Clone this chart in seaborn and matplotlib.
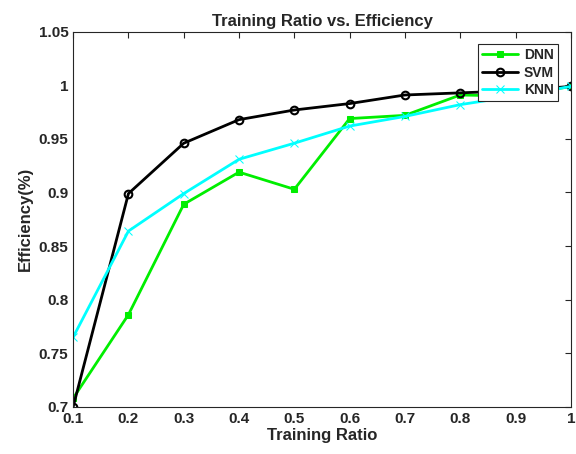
import matplotlib.pyplot as plt
import seaborn as sns
import pandas as pd

ratio = [0.1, 0.2, 0.3, 0.4, 0.5, 0.6, 0.7, 0.8, 0.9, 1.0]
dnn = [0.708, 0.786, 0.889, 0.919, 0.903, 0.969, 0.972, 0.991, 0.990, 0.999]
svm = [0.700, 0.899, 0.946, 0.968, 0.977, 0.983, 0.991, 0.993, 0.995, 0.999]
knn = [0.765, 0.864, 0.899, 0.931, 0.946, 0.962, 0.971, 0.982, 0.990, 0.999]
yticks = [0.7, 0.75, 0.8, 0.85, 0.9, 0.95, 1.0, 1.05]
ytick_labels = ['0.7', '0.75', '0.8', '0.85', '0.9', '0.95', '1', '1.05']
xticks = [0.1, 0.2, 0.3, 0.4, 0.5, 0.6, 0.7, 0.8, 0.9, 1.0]
xtick_labels = ['0.1', '0.2', '0.3', '0.4', '0.5', '0.6', '0.7', '0.8', '0.9', '1']

sns.set_style('white')
plt.rcParams['font.family'] = ['Liberation Sans', 'DejaVu Sans']
plt.rcParams['font.weight'] = 'bold'

df = pd.DataFrame({'ratio': ratio, 'DNN': dnn, 'SVM': svm, 'KNN': knn})

fig = plt.figure(figsize=(5.76, 4.54), dpi=100)
ax = fig.add_axes([0.127, 0.104, 0.864, 0.826])

sns.lineplot(data=df, x='ratio', y='DNN', ax=ax, color='#00ee00', marker='s',
             markersize=4.5, linewidth=2, label='DNN', markeredgecolor='#00ee00')
sns.lineplot(data=df, x='ratio', y='SVM', ax=ax, color='black', marker='o',
             markersize=5.5, linewidth=2, label='SVM', markerfacecolor='none',
             markeredgecolor='black', markeredgewidth=1.5)
sns.lineplot(data=df, x='ratio', y='KNN', ax=ax, color='#00ffff', marker='x',
             markersize=5.5, linewidth=2, label='KNN', markeredgecolor='#00ffff')

ax.set_xlim(0.1, 1.0)
ax.set_ylim(0.7, 1.05)
ax.set_xticks(xticks)
ax.set_xticklabels(xtick_labels)
ax.set_yticks(yticks)
ax.set_yticklabels(ytick_labels)
ax.tick_params(direction='in', top=True, right=True, labelsize=11, colors='#262626',
               length=4, width=0.8)
for s in ax.spines.values():
    s.set_color('#262626')
    s.set_linewidth(0.8)

ax.set_title('Training Ratio vs. Efficiency', fontsize=12, fontweight='bold', pad=4)
ax.set_xlabel('Training Ratio', fontsize=12, fontweight='bold', labelpad=2)
ax.set_ylabel('Efficiency(%)', fontsize=12, fontweight='bold', labelpad=4)

leg = ax.legend(loc='upper right', bbox_to_anchor=(0.98, 0.975), fontsize=10,
                fancybox=False, frameon=True, borderpad=0.3, handlelength=2.6,
                labelspacing=0.25, handletextpad=0.4, borderaxespad=0.2)
leg.get_frame().set_edgecolor('#262626')
leg.get_frame().set_linewidth(0.8)
leg.get_frame().set_alpha(1)

plt.savefig('out.png', dpi=100)
plt.close('all')
